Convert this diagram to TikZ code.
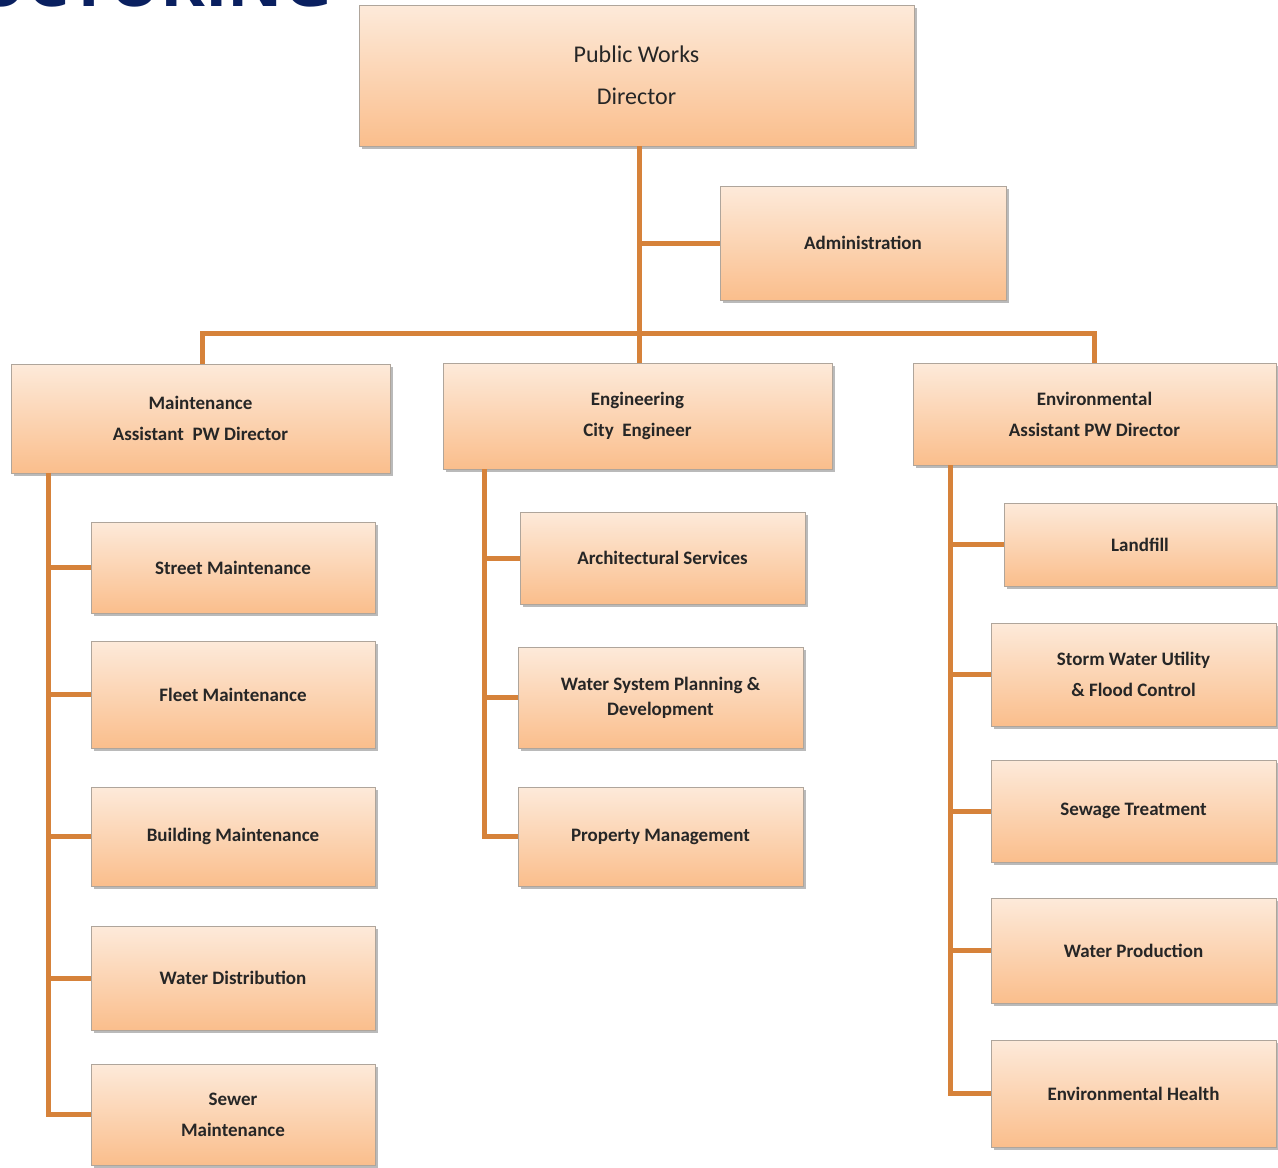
\documentclass[tikz,border=0pt]{standalone}
\usepackage{fontspec}
\setmainfont{Carlito}
\newfontfamily\headfont{Open Sans}
\usetikzlibrary{shadows}
\definecolor{boxtop}{RGB}{253,234,218}
\definecolor{boxbot}{RGB}{250,190,140}
\definecolor{boxline}{RGB}{175,165,155}
\definecolor{conncol}{RGB}{214,130,58}
\definecolor{navy}{RGB}{10,32,96}
\tikzset{
  box/.style={rectangle, anchor=north west, inner sep=0pt, outer sep=0pt,
    draw=boxline, line width=1pt, top color=boxtop, bottom color=boxbot,
    align=center, text=black!85,
    drop shadow={shadow xshift=2.5pt, shadow yshift=-3pt, opacity=0.45, fill=black!60},
    font=\bfseries\fontsize{19}{31}\selectfont},
  bigbox/.style={box, font=\fontsize{24}{42}\selectfont},
  conn/.style={draw=conncol, line width=5pt},
}
\begin{document}
\begin{tikzpicture}[x=1pt,y=-1pt]
\useasboundingbox (0,0) rectangle (1278,1168);
\clip (0,0) rectangle (1278,1168);
\node[anchor=base east, text=navy, font=\headfont\bfseries\fontsize{68}{68}\selectfont] (title) at (336,6) {RESTRUCTURING};

% boxes
\node[bigbox, minimum width=555pt, minimum height=141pt] (pwd) at (359,5) {Public Works\\Director};
\node[box, minimum width=286pt, minimum height=114pt] (adm) at (720,186) {Administration};
\node[box, minimum width=379pt, minimum height=109pt] (mnt) at (11,364) {Maintenance\\Assistant\ \ PW Director};
\node[box, minimum width=389pt, minimum height=106pt] (eng) at (443,363) {Engineering\\City\ \ Engineer};
\node[box, minimum width=363pt, minimum height=102pt] (env) at (913,363) {Environmental\\Assistant PW Director};

\node[box, minimum width=284pt, minimum height=91pt] (stm) at (91,522) {Street Maintenance};
\node[box, minimum width=284pt, minimum height=107pt] (flt) at (91,641) {Fleet Maintenance};
\node[box, minimum width=284pt, minimum height=99pt] (bld) at (91,787) {Building Maintenance};
\node[box, minimum width=284pt, minimum height=104pt] (wdi) at (91,926) {Water Distribution};
\node[box, minimum width=284pt, minimum height=101pt] (sew) at (91,1064) {Sewer\\Maintenance};

\node[box, minimum width=285pt, minimum height=92pt] (arc) at (520,512) {Architectural Services};
\node[box, minimum width=285pt, minimum height=101pt, font=\bfseries\fontsize{19}{25}\selectfont] (wsp) at (518,647) {Water System Planning \&\\Development};
\node[box, minimum width=285pt, minimum height=99pt] (prm) at (518,787) {Property Management};

\node[box, minimum width=272pt, minimum height=83pt] (lnd) at (1004,503) {Landfill};
\node[box, minimum width=285pt, minimum height=103pt] (stw) at (991,623) {Storm Water Utility\\\& Flood Control};
\node[box, minimum width=285pt, minimum height=102pt] (sgt) at (991,760) {Sewage Treatment};
\node[box, minimum width=285pt, minimum height=105pt] (wpr) at (991,898) {Water Production};
\node[box, minimum width=285pt, minimum height=107pt] (enh) at (991,1040) {Environmental Health};

% connector coordinates
\coordinate (top) at (639,146);
\coordinate (bus) at (639,333);
\coordinate (ml) at (48,473);
\coordinate (el) at (484,469);
\coordinate (rl) at (950,465);

% connectors
\draw[conn] (top) -- (top |- eng.north);
\draw[conn] (top |- adm.west) -- (adm.west);
\draw[conn] (mnt.north -| 202,0) |- (bus) -| (env.north -| 1094,0);

\draw[conn] (ml) |- (sew.west);
\foreach \n in {stm,flt,bld,wdi} \draw[conn] (ml |- \n.west) -- (\n.west);

\draw[conn] (el) |- (prm.west);
\foreach \n in {arc,wsp} \draw[conn] (el |- \n.west) -- (\n.west);

\draw[conn] (rl) |- (enh.west);
\foreach \n in {lnd,stw,sgt,wpr} \draw[conn] (rl |- \n.west) -- (\n.west);
\end{tikzpicture}
\end{document}
